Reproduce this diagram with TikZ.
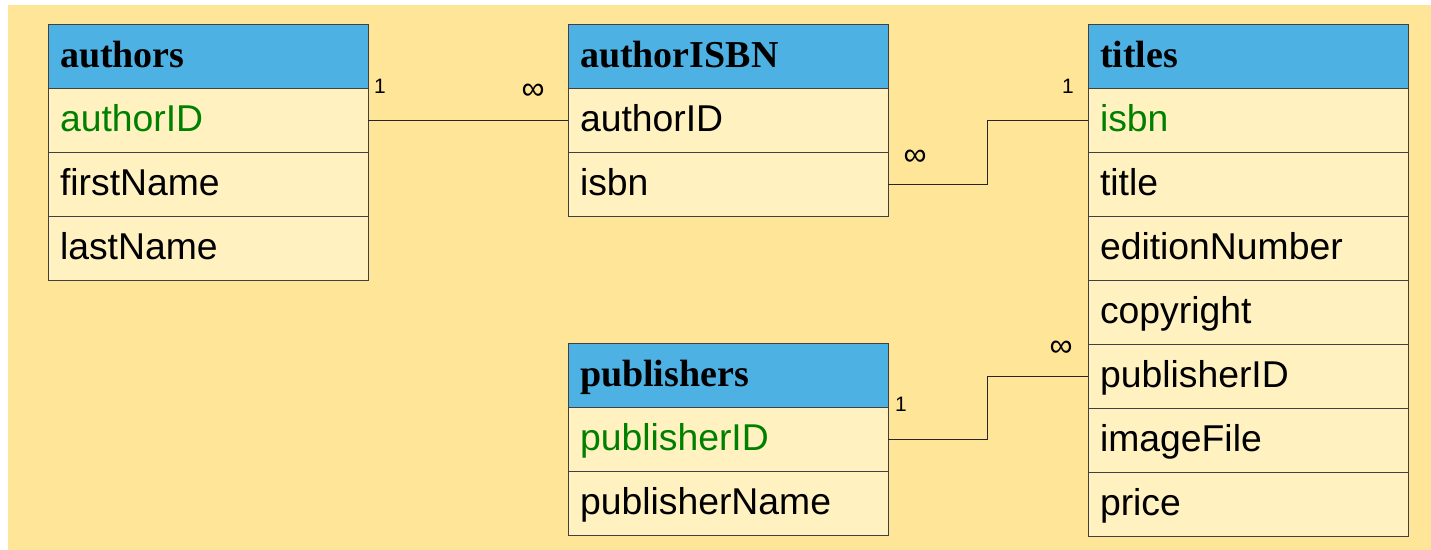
\documentclass[tikz,border=0pt]{standalone}
\usepackage{fontspec}
\setmainfont{Liberation Sans}
\newfontfamily\headfont{Liberation Serif}
\usetikzlibrary{positioning}

\definecolor{tblblue}{HTML}{4DB1E4}
\definecolor{rowfill}{HTML}{FFF2C0}
\definecolor{bgfill}{HTML}{FFE597}
\definecolor{keygreen}{HTML}{008000}

\tikzset{
  tbl/.style={draw=black!75, line width=0.4pt, rectangle, anchor=north west, outer sep=0pt,
    minimum width=144pt, minimum height=28.8pt, text width=133.2pt, inner xsep=5.4pt,
    align=left, text height=13.5pt, text depth=3pt},
  hdr/.style={tbl, fill=tblblue, font=\headfont\bfseries\fontsize{17.1}{19}\selectfont},
  fld/.style={tbl, fill=rowfill, font=\fontsize{16.8}{19}\selectfont},
  keyfld/.style={fld, text=keygreen},
  card/.style={font=\fontsize{9.4}{10}\selectfont, inner sep=0pt},
  many/.style={font=\fontsize{14.5}{15}\selectfont, inner sep=0pt},
  link/.style={draw=black!85, line width=0.35pt}
}

\begin{document}
\begin{tikzpicture}[x=0.45pt, y=-0.45pt]
\useasboundingbox (0,0) rectangle (1431,550);
\fill[bgfill] (8,5) rectangle (1431,550);

% authors
\node[hdr] (au) at (48,24) {authors};
\node[keyfld, below=0pt of au] (au_id) {authorID};
\node[fld, below=0pt of au_id] (au_first) {firstName};
\node[fld, below=0pt of au_first] (au_last) {lastName};

% authorISBN
\node[hdr] (ab) at (568,24) {authorISBN};
\node[fld, below=0pt of ab] (ab_aid) {authorID};
\node[fld, below=0pt of ab_aid] (ab_isbn) {isbn};

% titles
\node[hdr] (ti) at (1088,24) {titles};
\node[keyfld, below=0pt of ti] (ti_isbn) {isbn};
\node[fld, below=0pt of ti_isbn] (ti_title) {title};
\node[fld, below=0pt of ti_title] (ti_ed) {editionNumber};
\node[fld, below=0pt of ti_ed] (ti_copy) {copyright};
\node[fld, below=0pt of ti_copy] (ti_pid) {publisherID};
\node[fld, below=0pt of ti_pid] (ti_img) {imageFile};
\node[fld, below=0pt of ti_img] (ti_price) {price};

% publishers
\node[hdr] (pu) at (568,343) {publishers};
\node[keyfld, below=0pt of pu] (pu_pid) {publisherID};
\node[fld, below=0pt of pu_pid] (pu_name) {publisherName};

% relationships
\draw[link] (au_id.east) -- (ab_aid.west);
\draw[link] (ab_isbn.east) -- ++(99,0) |- (ti_isbn.west);
\draw[link] (pu_pid.east) -- ++(99,0) |- (ti_pid.west);

% cardinalities
\node[card] (c_au) at (380,86) {1};
\node[many] (m_ab) at (533,92) {∞};
\node[many] (m_abi) at (915,158) {∞};
\node[card] (c_ti) at (1068,86) {1};
\node[card] (c_pu) at (901,404) {1};
\node[many] (m_ti) at (1061,349) {∞};
\end{tikzpicture}
\end{document}
